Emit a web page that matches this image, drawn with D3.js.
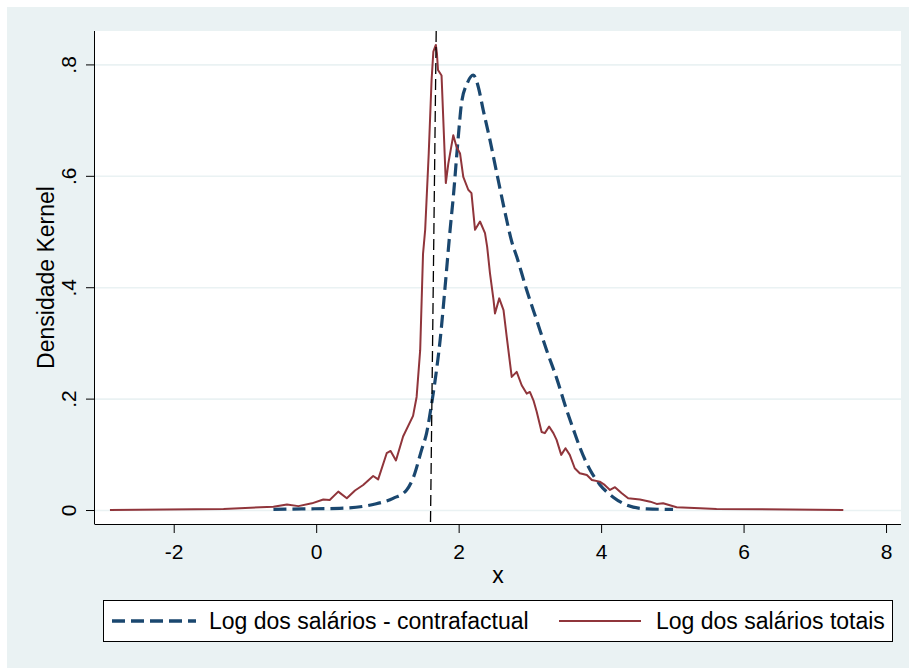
<!DOCTYPE html>
<html>
<head>
<meta charset="utf-8">
<script src="https://cdn.jsdelivr.net/npm/d3@7"></script>
<style>
  body { margin: 0; background: #ffffff; }
  text { font-family: "Liberation Sans", Arial, sans-serif; fill: #000; }
</style>
</head>
<body>
<svg id="chart" width="909" height="668"></svg>
<script>
// curva contrafactual (tracejada azul)
var contraX = [-0.60, -0.20, 0.33, 0.80, 1.08, 1.27, 1.36, 1.48, 1.55, 1.62, 1.67, 1.74, 1.81, 1.88, 1.925, 1.995, 2.04, 2.12, 2.205, 2.275, 2.345, 2.44, 2.535, 2.65, 2.745, 2.815, 2.955, 3.095, 3.235, 3.38, 3.515, 3.61, 3.70, 3.84, 3.98, 4.17, 4.36, 4.64, 5.01];
var contraY = [0.001, 0.002, 0.003, 0.010, 0.021, 0.036, 0.057, 0.108, 0.138, 0.190, 0.233, 0.305, 0.401, 0.503, 0.562, 0.670, 0.730, 0.766, 0.781, 0.760, 0.718, 0.664, 0.605, 0.535, 0.482, 0.455, 0.395, 0.341, 0.287, 0.235, 0.180, 0.145, 0.113, 0.073, 0.046, 0.023, 0.009, 0.002, 0.001];

// salarios totais (linha vermelha)
var totalX = [-2.895, -1.30, -0.60, -0.41, -0.25, -0.06, 0.10, 0.19, 0.31, 0.43, 0.545, 0.66, 0.80, 0.87, 0.99, 1.045, 1.12, 1.22, 1.36, 1.41, 1.46, 1.50, 1.53, 1.58, 1.62, 1.645, 1.68, 1.695, 1.71, 1.76, 1.82, 1.855, 1.925, 1.97, 2.02, 2.065, 2.135, 2.18, 2.23, 2.30, 2.37, 2.40, 2.44, 2.49, 2.51, 2.57, 2.63, 2.675, 2.745, 2.815, 2.885, 2.955, 3.0, 3.05, 3.095, 3.165, 3.21, 3.27, 3.33, 3.375, 3.44, 3.50, 3.56, 3.63, 3.70, 3.80, 3.87, 3.98, 4.05, 4.125, 4.195, 4.29, 4.38, 4.545, 4.69, 4.78, 4.87, 5.06, 5.39, 5.62, 7.40];
var totalY = [0.0, 0.002, 0.006, 0.010, 0.007, 0.012, 0.019, 0.018, 0.033, 0.021, 0.035, 0.045, 0.061, 0.055, 0.102, 0.106, 0.089, 0.132, 0.169, 0.203, 0.287, 0.460, 0.503, 0.640, 0.772, 0.823, 0.835, 0.820, 0.790, 0.780, 0.587, 0.622, 0.673, 0.652, 0.640, 0.598, 0.575, 0.569, 0.503, 0.518, 0.497, 0.473, 0.425, 0.377, 0.353, 0.380, 0.359, 0.311, 0.239, 0.248, 0.224, 0.209, 0.212, 0.197, 0.177, 0.140, 0.138, 0.150, 0.138, 0.126, 0.099, 0.111, 0.099, 0.075, 0.066, 0.063, 0.054, 0.051, 0.045, 0.036, 0.041, 0.030, 0.021, 0.019, 0.015, 0.011, 0.012, 0.005, 0.003, 0.002, 0.0];

var xTicks = [-2, 0, 2, 4, 6, 8];
var xTickLabels = ["-2", "0", "2", "4", "6", "8"];
var yTicks = [0, 0.2, 0.4, 0.6, 0.8];
var yTickLabels = ["0", ".2", ".4", ".6", ".8"];
var vlineX = [1.685, 1.605]; // linha tracejada (topo, base) - ta meio torta no original

var svg = d3.select("#chart");
var plot = {left: 95, right: 901, top: 31, bottom: 524};

svg.append("rect")
    .attr("x", 7).attr("y", 7)
    .attr("width", 902).attr("height", 661)
    .attr("fill", "#eaf2f3");

svg.append("rect")
    .attr("x", plot.left).attr("y", plot.top)
    .attr("width", plot.right - plot.left).attr("height", plot.bottom - plot.top)
    .attr("fill", "#ffffff");

var xScale = d3.scaleLinear().domain([-3.105, 8.21]).range([plot.left, plot.right]);
var yScale = d3.scaleLinear().domain([-0.0251, 0.86]).range([plot.bottom, plot.top]);

// grid
svg.append("g")
    .attr("transform", "translate(" + plot.left + ",0)")
    .call(d3.axisLeft(yScale).tickValues(yTicks).tickSize(-(plot.right - plot.left)).tickFormat(""))
    .call(g => g.select(".domain").remove())
    .selectAll("line").attr("stroke", "#eaf2f3").attr("stroke-width", 1.6);

var line = d3.line()
    .x(d => xScale(d[0]))
    .y(d => yScale(d[1]));

svg.append("path")
    .datum(d3.zip(contraX, contraY))
    .attr("fill", "none")
    .attr("stroke", "#1a476f")
    .attr("stroke-width", 3.2)
    .attr("stroke-dasharray", "13,6")
    .attr("d", line.curve(d3.curveMonotoneX));

svg.append("path")
    .datum(d3.zip(totalX, totalY))
    .attr("fill", "none")
    .attr("stroke", "#90353b")
    .attr("stroke-width", 2)
    .attr("stroke-linejoin", "round")
    .attr("d", line.curve(d3.curveLinear));

svg.append("line")
    .attr("x1", xScale(vlineX[0])).attr("y1", plot.top)
    .attr("x2", xScale(vlineX[1])).attr("y2", plot.bottom - 2)
    .attr("stroke", "#000")
    .attr("stroke-width", 1.3)
    .attr("stroke-dasharray", "11,5");

// eixos
var xAxis = svg.append("g")
    .attr("transform", "translate(0," + plot.bottom + ")")
    .call(d3.axisBottom(xScale).tickValues(xTicks).tickSize(9).tickSizeOuter(0)
        .tickFormat((d, i) => xTickLabels[i]));
xAxis.select(".domain").attr("d", "M" + plot.left + ",0.5H" + plot.right);
xAxis.selectAll("text").attr("y", 35).attr("dy", 0).style("font-size", "21px")
    .style("font-family", "'Liberation Sans', Arial, sans-serif").attr("fill", "#000");

var yAxis = svg.append("g")
    .attr("transform", "translate(" + plot.left + ",0)")
    .call(d3.axisLeft(yScale).tickValues(yTicks).tickSize(9).tickSizeOuter(0)
        .tickFormat((d, i) => yTickLabels[i]));
yAxis.select(".domain").attr("d", "M-0.5," + plot.top + "V" + (plot.bottom + 0.5));
yAxis.selectAll("text")
    .attr("x", 0).attr("dy", 0)
    .attr("transform", "translate(-19,0) rotate(-90)")
    .attr("text-anchor", "middle")
    .style("font-size", "21px")
    .style("font-family", "'Liberation Sans', Arial, sans-serif").attr("fill", "#000");

svg.append("text")
    .attr("x", (plot.left + plot.right) / 2)
    .attr("y", 583)
    .attr("text-anchor", "middle")
    .style("font-size", "23px")
    .text("x");

svg.append("text")
    .attr("transform", "translate(54," + ((plot.top + plot.bottom) / 2) + ") rotate(-90)")
    .attr("text-anchor", "middle")
    .style("font-size", "23px")
    .text("Densidade Kernel");

// legenda
var leg = svg.append("g");
leg.append("rect")
    .attr("x", 103.5).attr("y", 600.5)
    .attr("width", 789).attr("height", 41)
    .attr("fill", "#fff").attr("stroke", "#000").attr("stroke-width", 1);
leg.append("line")
    .attr("x1", 112).attr("x2", 196).attr("y1", 621).attr("y2", 621)
    .attr("stroke", "#1a476f").attr("stroke-width", 3.6).attr("stroke-dasharray", "13,6");
leg.append("text")
    .attr("x", 209).attr("y", 629)
    .style("font-size", "23px")
    .text("Log dos salários - contrafactual");
leg.append("line")
    .attr("x1", 559).attr("x2", 641).attr("y1", 621).attr("y2", 621)
    .attr("stroke", "#90353b").attr("stroke-width", 2);
leg.append("text")
    .attr("x", 656).attr("y", 629)
    .style("font-size", "23px")
    .text("Log dos salários totais");
</script>
</body>
</html>
